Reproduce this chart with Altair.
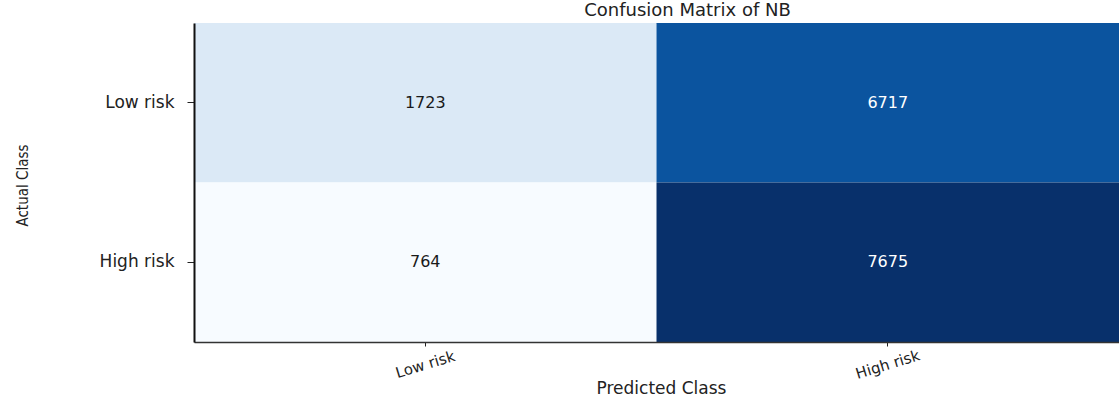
import altair as alt
import pandas as pd

# Data
actual_classes = ["Low risk", "Low risk", "High risk", "High risk"]
predicted_classes = ["Low risk", "High risk", "Low risk", "High risk"]
counts = [1723, 6717, 764, 7675]
class_order = ["Low risk", "High risk"]

df = pd.DataFrame({
    "Actual": actual_classes,
    "Predicted": predicted_classes,
    "Count": counts,
})

vmin, vmax = min(counts), max(counts)
thresh = vmax / 2
blues = ["#f7fbff", "#deebf7", "#c6dbef", "#9ecae1", "#6baed6",
         "#4292c6", "#2171b5", "#08519c", "#08306b"]
dom = [vmin + (vmax - vmin) * i / 8 for i in range(9)]

FONT = "DejaVu Sans"

base = alt.Chart(df).encode(
    x=alt.X("Predicted:N", sort=class_order, scale=alt.Scale(paddingInner=0, paddingOuter=0),
            axis=alt.Axis(title="Predicted Class", labelAngle=-17, labelAlign="center",
                          labelBaseline="middle", labelPadding=18, tickSize=4,
                          labelFontSize=15, labelFont=FONT, labelColor="#222",
                          titleFont=FONT, titleFontSize=17, titleFontWeight="normal",
                          titleColor="#222", titleY=46, titleBaseline="middle",
                          titleX=467,
                          domainColor="#333", domainWidth=1.5, tickColor="#222",
                          grid=False)),
    y=alt.Y("Actual:N", sort=class_order, scale=alt.Scale(paddingInner=0, paddingOuter=0),
            axis=alt.Axis(title="Actual Class", labelPadding=13, tickSize=7,
                          labelFontSize=17, labelFont=FONT, labelColor="#222",
                          titleFont="Liberation Sans Narrow, DejaVu Sans Condensed, Liberation Sans",
                          titleFontSize=15, titleFontWeight="normal", titleColor="#222",
                          titleX=-172, titleY=162, titleBaseline="middle", titleAngle=-90,
                          domainColor="#111", domainWidth=2, tickColor="#222",
                          grid=False)),
)

rect = base.mark_rect().encode(
    color=alt.Color("Count:Q", scale=alt.Scale(domain=dom, range=blues), legend=None)
)

text = base.mark_text(font=FONT, fontSize=16).encode(
    text=alt.Text("Count:Q", format="d"),
    color=alt.condition(alt.datum.Count > thresh, alt.value("white"), alt.value("#1a1a1a")),
)

chart = (rect + text).properties(
    width=925,
    height=319,
    title=alt.TitleParams("Confusion Matrix of NB", font=FONT, fontSize=18,
                          fontWeight="normal", color="#222", offset=3, dx=31),
    autosize=alt.AutoSizeParams(type="none"),
    padding={"left": 194, "top": 23, "right": 0, "bottom": 56},
).configure_view(stroke="#333", strokeWidth=1).configure(background="white")

chart.save("out.html", embed_options={"renderer": "svg", "actions": False})
